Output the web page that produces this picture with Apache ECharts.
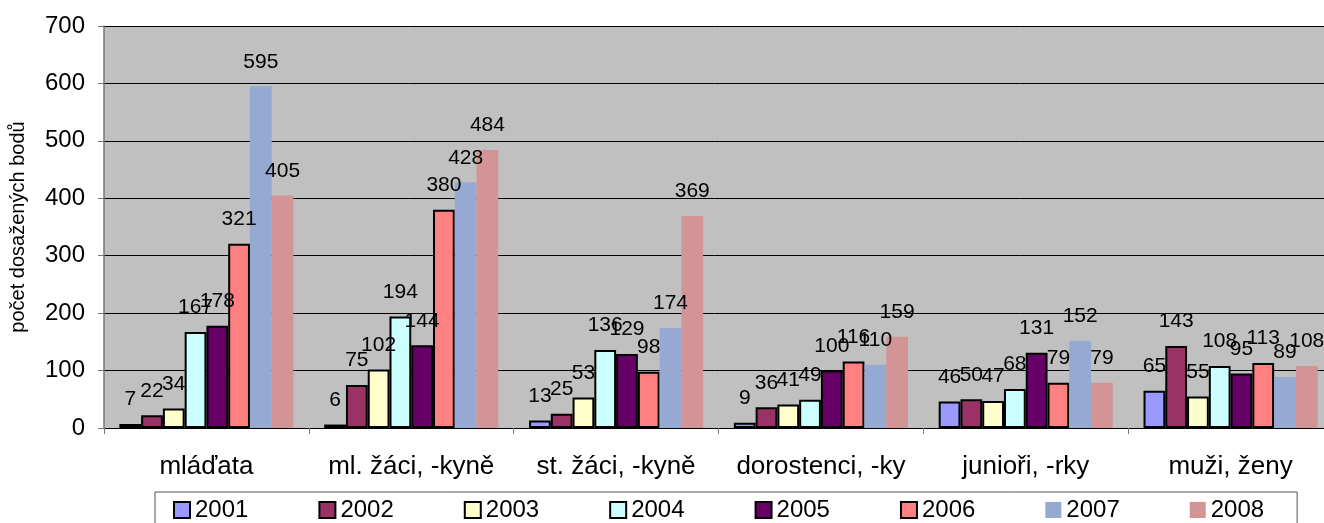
<!DOCTYPE html>
<html>
<head>
<meta charset="utf-8">
<script src="https://cdn.jsdelivr.net/npm/echarts@6/dist/echarts.min.js"></script>
<style>
  html, body { margin: 0; padding: 0; background: #fff; }
  #chart { width: 1324px; height: 523px; }
</style>
</head>
<body>
<div id="chart"></div>
<script>
// categories and yearly values
const categories = ['mláďata', 'ml. žáci, -kyně', 'st. žáci, -kyně', 'dorostenci, -ky', 'junioři, -rky', 'muži, ženy'];
const years = ['2001', '2002', '2003', '2004', '2005', '2006', '2007', '2008'];
const v2001 = [7, 6, 13, 9, 46, 65];
const v2002 = [22, 75, 25, 36, 50, 143];
const v2003 = [34, 102, 53, 41, 47, 55];
const v2004 = [167, 194, 136, 49, 68, 108];
const v2005 = [178, 144, 129, 100, 131, 95];
const v2006 = [321, 380, 98, 116, 79, 113];
const v2007 = [595, 428, 174, 110, 152, 89];
const v2008 = [405, 484, 369, 159, 79, 108];

const values = [v2001, v2002, v2003, v2004, v2005, v2006, v2007, v2008];
const colors = ['#9999FF', '#993366', '#FFFFCC', '#CCFFFF', '#660066', '#FF8080', '#95A9D2', '#D29494'];
const bordered = [true, true, true, true, true, true, false, false];

const FONT = 'Arial, "Liberation Sans"';
const chart = echarts.init(document.getElementById('chart'));

const series = years.map((y, i) => ({
  name: y,
  type: 'bar',
  data: values[i],
  barGap: '0%',
  barCategoryGap: '15%',
  itemStyle: {
    color: colors[i],
    borderColor: bordered[i] ? '#000' : colors[i],
    borderWidth: bordered[i] ? 2 : 0
  },
  label: {
    show: true,
    position: 'top',
    distance: 14,
    color: '#000',
    fontFamily: FONT,
    fontSize: 21
  }
}));

chart.setOption({
  animation: false,
  textStyle: { fontFamily: FONT },
  grid: {
    left: 104,
    right: -9,
    top: 26,
    bottom: 95,
    outerBoundsMode: 'none',
    containLabel: false,
    show: true,
    backgroundColor: '#C0C0C0',
    borderWidth: 0
  },
  legend: {
    data: years.map((y, i) => ({
      name: y,
      itemStyle: { borderColor: bordered[i] ? '#000' : colors[i], borderWidth: bordered[i] ? 2 : 0 }
    })),
    icon: 'rect',
    left: 155,
    top: 492,
    itemWidth: 16,
    itemHeight: 16,
    itemGap: 70,
    padding: [6, 33, 12, 18],
    borderColor: '#555',
    borderWidth: 1,
    textStyle: { fontSize: 24, color: '#000', fontFamily: FONT }
  },
  xAxis: {
    type: 'category',
    data: categories,
    axisLine: { lineStyle: { color: '#000', width: 1 } },
    axisTick: { show: true, length: 6, lineStyle: { color: '#777' } },
    axisLabel: { color: '#000', fontSize: 26, margin: 26, interval: 0 }
  },
  yAxis: {
    type: 'value',
    min: 0,
    max: 700,
    interval: 100,
    name: 'počet dosažených bodů',
    nameLocation: 'middle',
    nameGap: 76,
    nameTextStyle: { fontSize: 20, color: '#000' },
    axisLine: { show: true, lineStyle: { color: '#777', width: 1.5 } },
    axisTick: { show: true, length: 6, lineStyle: { color: '#777' } },
    axisLabel: { color: '#000', fontSize: 24, margin: 19 },
    splitLine: { lineStyle: { color: '#000', width: 1 } }
  },
  series: series
});
</script>
</body>
</html>
